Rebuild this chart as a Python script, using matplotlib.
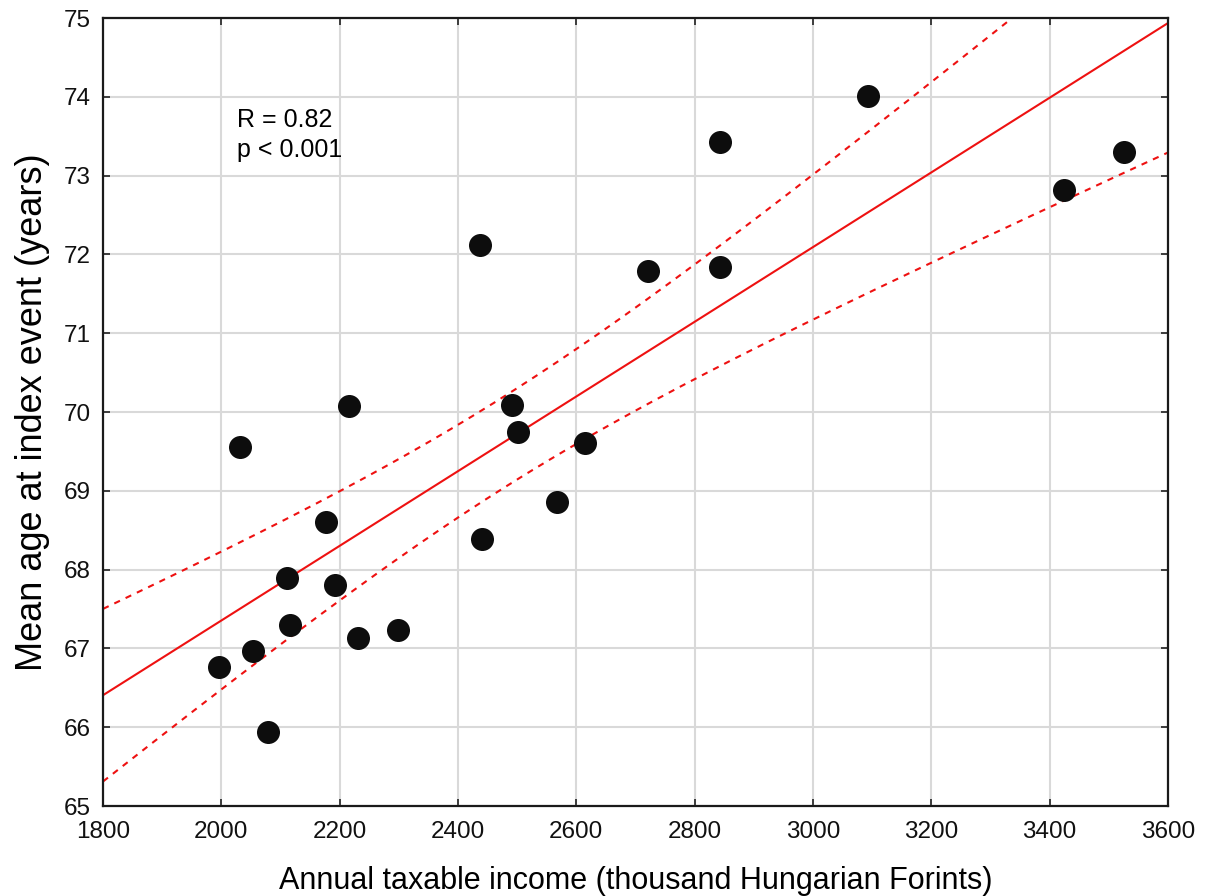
import numpy as np
import matplotlib
matplotlib.use("Agg")
import matplotlib.pyplot as plt

plt.rcParams['font.family'] = ['Liberation Sans', 'DejaVu Sans']

# income (thousand HUF) vs mean age at index event
income = [1996, 2053, 2079, 2031, 2111, 2116, 2177, 2192, 2216, 2231, 2299,
          2437, 2441, 2491, 2501, 2567, 2614, 2721, 2843, 2843, 3093, 3424, 3525]
age = [66.76, 66.97, 65.94, 69.56, 67.89, 67.30, 68.61, 67.80, 70.08, 67.13, 67.23,
       72.12, 68.39, 70.09, 69.75, 68.86, 69.61, 71.79, 73.43, 71.84, 74.01, 72.82, 73.30]

x_ticks = [1800, 2000, 2200, 2400, 2600, 2800, 3000, 3200, 3400, 3600]
y_ticks = [65, 66, 67, 68, 69, 70, 71, 72, 73, 74, 75]

x = np.array(income, dtype=float)
y = np.array(age)
n = len(x)

# linear fit + 95% confidence band of the mean
slope, intercept = np.polyfit(x, y, 1)
resid = y - (slope * x + intercept)
s = np.sqrt(np.sum(resid ** 2) / (n - 2))
t_crit = 2.080  # t(0.975, df=21)
xs = np.linspace(1800, 3600, 200)
fit = slope * xs + intercept
se = s * np.sqrt(1 / n + (xs - x.mean()) ** 2 / np.sum((x - x.mean()) ** 2))

fig = plt.figure(figsize=(12.15, 8.96), dpi=100)
ax = fig.add_axes([0.0848, 0.1004, 0.8765, 0.8795])

ax.grid(True, color='#d9d9d9', linewidth=1.5, zorder=0)
ax.plot(xs, fit, color='#ee1111', linewidth=1.5, zorder=2)
ax.plot(xs, fit + t_crit * se, color='#ee1111', linewidth=1.5, linestyle=(0, (3, 3)), zorder=2)
ax.plot(xs, fit - t_crit * se, color='#ee1111', linewidth=1.5, linestyle=(0, (3, 3)), zorder=2)
ax.scatter(x, y, s=275, color='#0d0d0d', zorder=3, linewidths=0)

ax.set_xlim(1800, 3600)
ax.set_ylim(65, 75)
ax.set_xticks(x_ticks)
ax.set_yticks(y_ticks)
ax.tick_params(direction='in', length=5, width=1.2, labelsize=17.5, top=True, right=True,
               labeltop=False, labelright=False, colors='#222222', labelcolor='#111111')
ax.tick_params(axis='x', pad=11)
ax.tick_params(axis='y', pad=9)
for sp in ax.spines.values():
    sp.set_linewidth(1.6)
    sp.set_color('#1a1a1a')

ax.set_xlabel('Annual taxable income (thousand Hungarian Forints)', fontsize=22, labelpad=16)
ax.set_ylabel('Mean age at index event (years)', fontsize=26, labelpad=10)

ax.text(2026, 73.71, 'R = 0.82', fontsize=18, va='center', ha='left')
ax.text(2026, 73.32, 'p < 0.001', fontsize=18, va='center', ha='left')

fig.savefig('out.png', dpi=100)
